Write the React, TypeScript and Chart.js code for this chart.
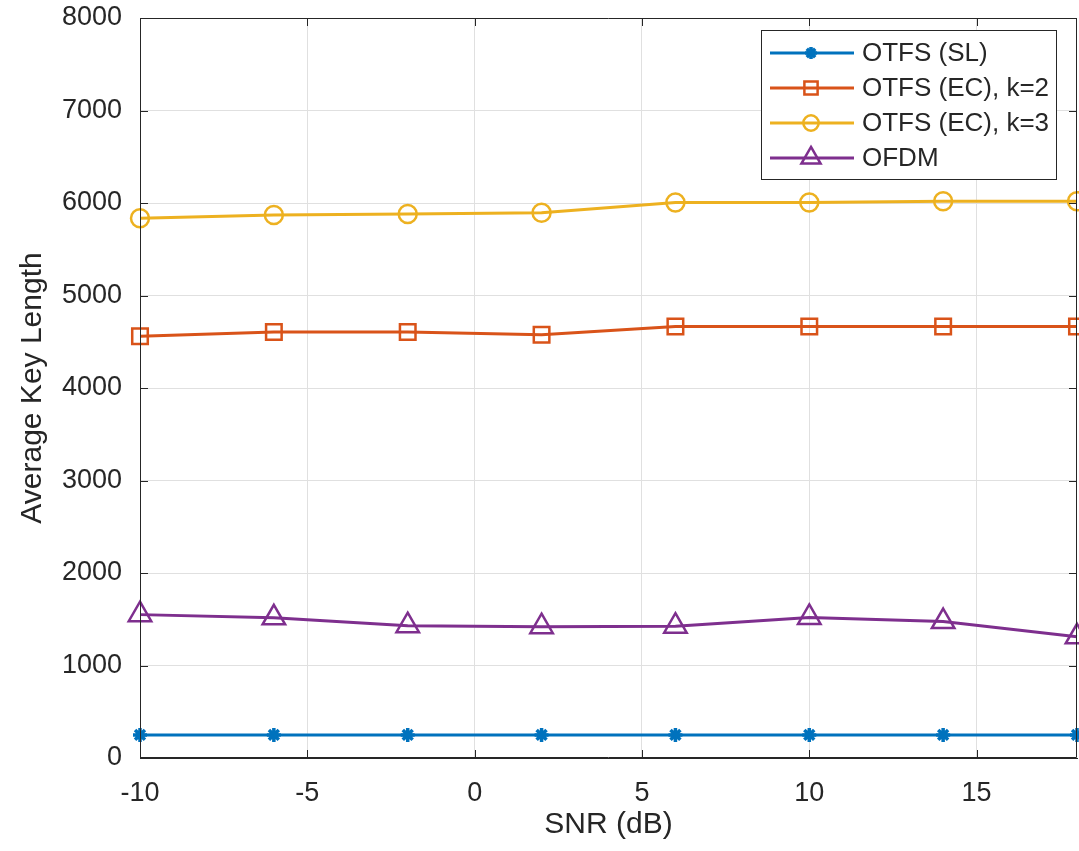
import React, { useEffect, useRef } from 'react';
import { Chart, registerables } from 'chart.js';
import { drawPoint } from 'chart.js/helpers';

Chart.register(...registerables);

const snr = [-10, -6, -2, 2, 6, 10, 14, 18];
const otfsSL = [250, 250, 250, 250, 250, 250, 250, 250];
const otfsEC2 = [4560, 4605, 4605, 4575, 4665, 4665, 4665, 4665];
const otfsEC3 = [5835, 5870, 5880, 5895, 6005, 6005, 6020, 6020];
const ofdm = [1550, 1515, 1430, 1420, 1425, 1520, 1475, 1310];
const xTicks = [-10, -5, 0, 5, 10, 15];
const yTicks = [0, 1000, 2000, 3000, 4000, 5000, 6000, 7000, 8000];
const seriesNames = ['OTFS (SL)', 'OTFS (EC), k=2', 'OTFS (EC), k=3', 'OFDM'];
const xTitle = 'SNR (dB)';
const yTitle = 'Average Key Length';

const COLORS = ['#0072BD', '#D95319', '#EDB120', '#7E2F8E'];
const STYLES = ['star', 'rect', 'circle', 'triangle'];
const RADII = [7, 11, 9, 13];
const BW = [3.5, 2.5, 2.5, 2.5];
const FONT = "'Liberation Sans', Arial, Helvetica, sans-serif";
const TEXT = '#262626';

const boxPlugin = {
  id: 'boxPlugin',
  afterDatasetsDraw(chart: any) {
    const { ctx, chartArea } = chart;
    const { left, right, top, bottom } = chartArea;
    const xs = chart.scales.x;
    const ys = chart.scales.y;
    ctx.save();
    ctx.strokeStyle = TEXT;
    ctx.lineWidth = 1;
    ctx.beginPath();
    ctx.rect(left + 0.5, top + 0.5, right - left - 1, bottom - top - 1);
    ctx.stroke();
    const tl = 8;
    ctx.beginPath();
    xTicks.forEach((v) => {
      const px = Math.round(xs.getPixelForValue(v)) + 0.5;
      ctx.moveTo(px, bottom);
      ctx.lineTo(px, bottom - tl);
      ctx.moveTo(px, top);
      ctx.lineTo(px, top + tl);
    });
    yTicks.forEach((v) => {
      const py = Math.round(ys.getPixelForValue(v)) + 0.5;
      ctx.moveTo(left, py);
      ctx.lineTo(left + tl, py);
      ctx.moveTo(right, py);
      ctx.lineTo(right - tl, py);
    });
    ctx.stroke();
    ctx.restore();
  },
  afterDraw(chart: any) {
    const { ctx } = chart;
    const bx = 761, by = 30, bw = 295, bh = 149;
    ctx.save();
    ctx.fillStyle = '#ffffff';
    ctx.fillRect(bx, by, bw, bh);
    ctx.strokeStyle = TEXT;
    ctx.lineWidth = 1;
    ctx.strokeRect(bx + 0.5, by + 0.5, bw, bh);
    const rows = [53, 88, 123, 158];
    seriesNames.forEach((name, i) => {
      const y = rows[i];
      ctx.strokeStyle = COLORS[i];
      ctx.lineWidth = 3;
      ctx.beginPath();
      ctx.moveTo(770, y);
      ctx.lineTo(854, y);
      ctx.stroke();
      ctx.fillStyle = 'rgba(0,0,0,0)';
      ctx.lineWidth = BW[i];
      drawPoint(ctx, { pointStyle: STYLES[i], radius: RADII[i] * 0.85, rotation: 0, borderWidth: BW[i] } as any, 811, y);
      ctx.fillStyle = TEXT;
      ctx.font = `26px ${FONT}`;
      ctx.textBaseline = 'middle';
      ctx.textAlign = 'left';
      ctx.fillText(name, 862, y + 1);
    });
    ctx.restore();
  },
};

export default function App() {
  const ref = useRef<HTMLCanvasElement | null>(null);

  useEffect(() => {
    document.body.style.margin = '0';
    const canvas = ref.current;
    if (!canvas) return;
    const seriesValues = [otfsSL, otfsEC2, otfsEC3, ofdm];
    const chart = new Chart(canvas, {
      type: 'line',
      data: {
        datasets: seriesValues.map((vals, i) => ({
          label: seriesNames[i],
          data: snr.map((x, j) => ({ x, y: vals[j] })),
          borderColor: COLORS[i],
          backgroundColor: 'rgba(0,0,0,0)',
          borderWidth: 3,
          pointStyle: STYLES[i] as any,
          pointRadius: RADII[i],
          pointBorderWidth: BW[i],
          pointBorderColor: COLORS[i],
          pointBackgroundColor: 'rgba(0,0,0,0)',
          tension: 0,
          clip: false as any,
        })),
      },
      options: {
        responsive: false,
        animation: false,
        layout: { autoPadding: false, padding: { top: 18, right: 2, left: 0, bottom: 0 } },
        plugins: {
          legend: { display: false },
          tooltip: { enabled: false },
        },
        scales: {
          x: {
            type: 'linear',
            min: -10,
            max: 18,
            afterBuildTicks: (s: any) => {
              s.ticks = xTicks.map((v) => ({ value: v }));
            },
            afterFit: (s: any) => {
              s.height = 93;
              s.paddingLeft = 0;
              s.paddingRight = 0;
            },
            grid: { color: '#e0e0e0', drawTicks: false, lineWidth: 1 },
            border: { display: true, color: TEXT },
            ticks: {
              color: TEXT,
              font: { family: FONT, size: 27 },
              padding: 19,
              maxRotation: 0,
            },
            title: {
              display: true,
              text: xTitle,
              color: TEXT,
              font: { family: FONT, size: 30 },
              padding: { top: 0, bottom: 8 },
            },
          },
          y: {
            type: 'linear',
            min: 0,
            max: 8000,
            afterBuildTicks: (s: any) => {
              s.ticks = yTicks.map((v) => ({ value: v }));
            },
            afterFit: (s: any) => {
              s.width = 140;
              s.paddingTop = 0;
              s.paddingBottom = 0;
            },
            grid: { color: '#e0e0e0', drawTicks: false, lineWidth: 1 },
            border: { display: true, color: TEXT },
            ticks: {
              color: TEXT,
              font: { family: FONT, size: 27 },
              padding: 18,
              callback: (v: any) => String(v),
            },
            title: {
              display: true,
              text: yTitle,
              color: TEXT,
              font: { family: FONT, size: 30 },
              padding: { top: 15, bottom: 0 },
            },
          },
        },
      },
      plugins: [boxPlugin],
    });
    return () => chart.destroy();
  }, []);

  return (
    <div style={{ width: 1079, height: 851 }}>
      <canvas ref={ref} width={1079} height={851} style={{ display: 'block' }} />
    </div>
  );
}
